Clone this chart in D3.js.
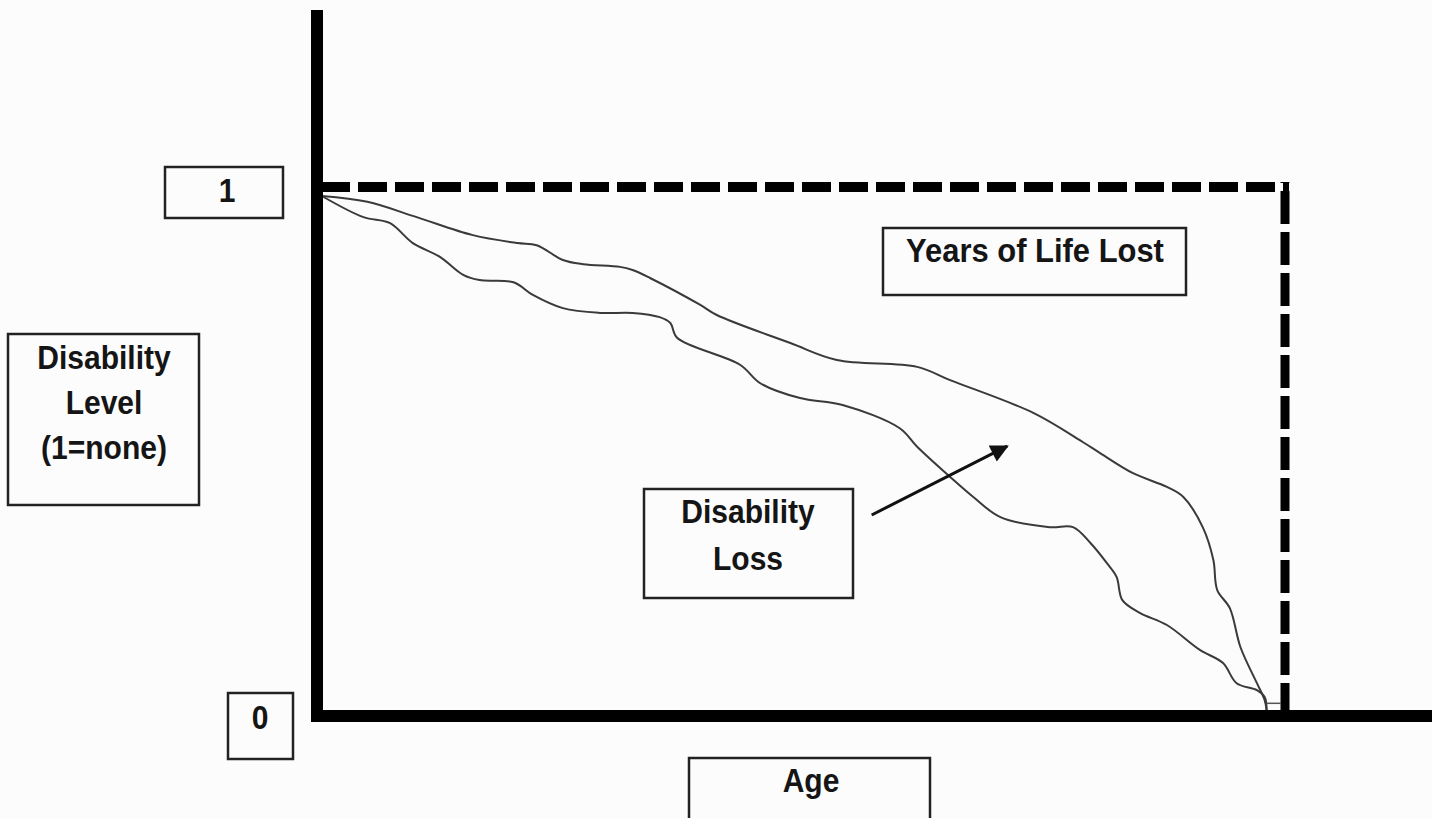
<!DOCTYPE html>
<html>
<head>
<meta charset="utf-8">
<script src="https://cdn.jsdelivr.net/npm/d3@7"></script>
<style>
  body { margin: 0; background: #fcfcfc; }
  svg { display: block; }
  text { font-family: "Liberation Sans", Arial, sans-serif; font-weight: bold; fill: #151515; }
</style>
</head>
<body>
<svg id="chart"></svg>
<script>
var width = 1432,
    height = 818;

// age (0-100) vs disability level (1 = none)
var upperAge = [0.5, 5.2, 10.3, 16.1, 20.7, 22.7, 25.4, 27.5, 31.3, 32.6, 34.4, 39.6, 41.3, 48.9, 53.7, 62.0, 65.4, 74.0, 79.1, 80.9, 84.3, 87.8, 89.5, 91.5, 92.6, 93.0, 94.3, 95.4, 97.1, 97.9, 98.1];
var upperLevel = [0.983, 0.972, 0.943, 0.909, 0.894, 0.890, 0.862, 0.854, 0.849, 0.843, 0.828, 0.777, 0.758, 0.705, 0.673, 0.660, 0.635, 0.573, 0.518, 0.497, 0.459, 0.433, 0.414, 0.357, 0.295, 0.238, 0.204, 0.130, 0.062, 0.030, 0.011];

var lowerAge = [0.5, 4.8, 7.5, 9.9, 12.7, 15.1, 16.8, 20.3, 22.3, 25.4, 29.2, 32.6, 35.4, 36.5, 37.2, 43.7, 45.8, 49.9, 54.3, 60.2, 62.0, 65.4, 67.8, 70.6, 75.7, 78.1, 79.9, 81.6, 82.6, 83.2, 85.0, 87.8, 91.2, 93.6, 95.0, 97.1, 97.9, 98.1];
var lowerLevel = [0.983, 0.943, 0.932, 0.894, 0.868, 0.834, 0.824, 0.820, 0.796, 0.771, 0.762, 0.762, 0.754, 0.743, 0.715, 0.664, 0.629, 0.601, 0.588, 0.544, 0.509, 0.452, 0.414, 0.376, 0.357, 0.357, 0.327, 0.289, 0.263, 0.219, 0.195, 0.172, 0.125, 0.100, 0.062, 0.049, 0.036, 0.011];

var tickValues = [0, 1];
var tickLabels = ["0", "1"];

var deathAge = 100;      // end of the dashed "years of life lost" box
var arrowFrom = [57.3, 0.380],
    arrowTo = [71.3, 0.510];

var svg = d3.select("#chart")
    .attr("width", width)
    .attr("height", height);

svg.append("rect")
    .attr("width", width)
    .attr("height", height)
    .attr("fill", "#fcfcfc");

var x = d3.scaleLinear()
    .domain([0, 100])
    .range([317, 1285]);

var y = d3.scaleLinear()
    .domain([0, 1])
    .range([716, 187]);

var defs = svg.append("defs");
defs.append("marker")
    .attr("id", "arrow")
    .attr("viewBox", "0 0 10 10")
    .attr("refX", 9)
    .attr("refY", 5)
    .attr("markerWidth", 22)
    .attr("markerHeight", 18)
    .attr("markerUnits", "userSpaceOnUse")
    .attr("orient", "auto")
  .append("path")
    .attr("d", "M0,0 L10,5 L0,10 Z")
    .attr("fill", "#111");

// dashed box: full health until death
svg.append("line")
    .attr("x1", x(0) + 4).attr("x2", x(deathAge) + 4)
    .attr("y1", y(1)).attr("y2", y(1))
    .attr("stroke", "#000")
    .attr("stroke-width", 10)
    .attr("stroke-dasharray", "29,8");

// drawn from the axis up so the last dash meets the axis
svg.append("line")
    .attr("x1", x(deathAge)).attr("x2", x(deathAge))
    .attr("y1", y(0)).attr("y2", y(1) - 5)
    .attr("stroke", "#000")
    .attr("stroke-width", 9)
    .attr("stroke-dasharray", "33,8");

// curves
var line = d3.line()
    .x(function(d) { return x(d[0]); })
    .y(function(d) { return y(d[1]); })
    .curve(d3.curveCatmullRom);

var upper = d3.zip(upperAge, upperLevel);
var lower = d3.zip(lowerAge, lowerLevel);

[upper, lower].forEach(function(series) {
    svg.append("path")
        .datum(series)
        .attr("d", line)
        .attr("fill", "none")
        .attr("stroke", "#3a3a3a")
        .attr("stroke-width", 2);
});

// small tail at the end
svg.append("line")
    .attr("x1", x(98.1)).attr("x2", x(deathAge) - 4)
    .attr("y1", y(0.024)).attr("y2", y(0.024))
    .attr("stroke", "#555")
    .attr("stroke-width", 1.5);

// axes
svg.append("line")
    .attr("x1", x(0)).attr("x2", x(0))
    .attr("y1", 10).attr("y2", y(0) + 6)
    .attr("stroke", "#000")
    .attr("stroke-width", 12);

svg.append("line")
    .attr("x1", x(0) - 6).attr("x2", width)
    .attr("y1", y(0)).attr("y2", y(0))
    .attr("stroke", "#000")
    .attr("stroke-width", 12);

// arrow
svg.append("line")
    .attr("x1", x(arrowFrom[0])).attr("y1", y(arrowFrom[1]))
    .attr("x2", x(arrowTo[0])).attr("y2", y(arrowTo[1]))
    .attr("stroke", "#111")
    .attr("stroke-width", 3)
    .attr("marker-end", "url(#arrow)");

// boxed labels
function box(x0, y0, w, h) {
    svg.append("rect")
        .attr("x", x0).attr("y", y0)
        .attr("width", w).attr("height", h)
        .attr("fill", "#fcfcfc")
        .attr("stroke", "#222")
        .attr("stroke-width", 2.5);
}

function label(lines, cx, baseline, lh, size) {
    lines.forEach(function(s, i) {
        svg.append("text")
            .attr("text-anchor", "middle")
            .attr("transform", "translate(" + cx + "," + (baseline + i * lh) + ") scale(0.91,1)")
            .style("font-size", size + "px")
            .text(s);
    });
}

// tick labels
var tickBox = [
    {x0: 165, w: 118, h: 51, dy: -20, cx: 227, base: 15},
    {x0: 228, w: 65, h: 66, dy: -23, cx: 260, base: 13}
];
tickValues.forEach(function(v, i) {
    var b = tickBox[1 - i];
    box(b.x0, y(v) + b.dy, b.w, b.h);
    label([tickLabels[i]], b.cx, y(v) + b.base, 0, 33);
});

box(8, 334, 191, 171);
label(["Disability", "Level", "(1=none)"], 104, 369, 45, 33);

box(883, 228, 303, 67);
label(["Years of Life Lost"], 1035, 262, 0, 34);

box(644, 489, 209, 109);
label(["Disability", "Loss"], 748, 523, 47, 33);

box(689, 758, 241, 70);
label(["Age"], 811, 792, 0, 33);
</script>
</body>
</html>
